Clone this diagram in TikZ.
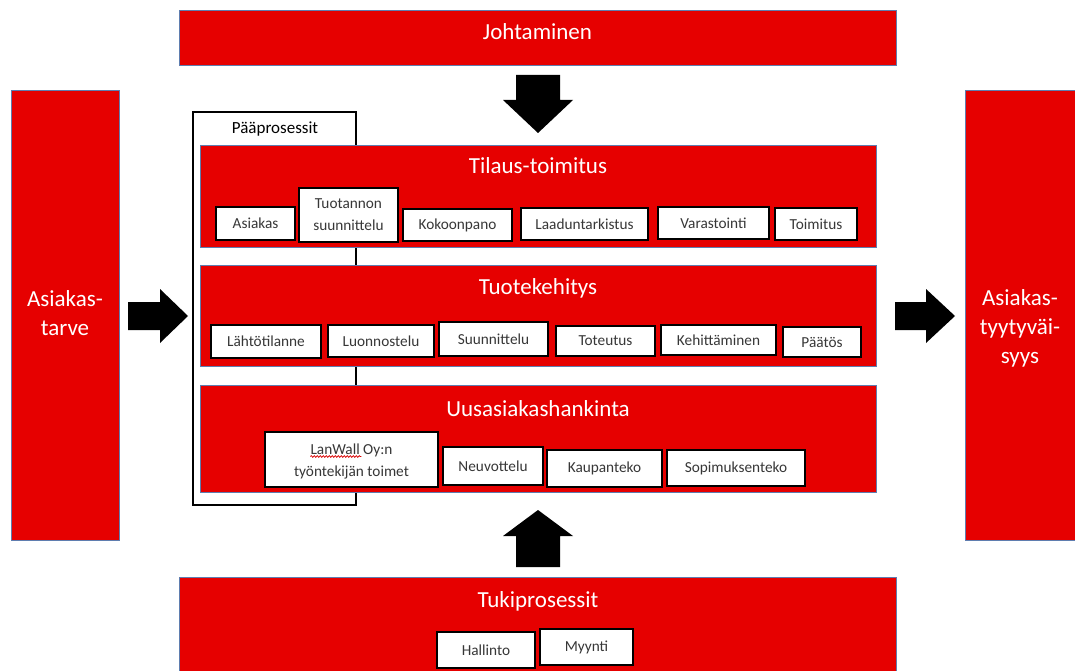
\documentclass[tikz,border=0pt]{standalone}
\usepackage{fontspec}
\setmainfont{Carlito}
\usetikzlibrary{decorations.pathmorphing}

\definecolor{boxred}{RGB}{230,0,0}
\definecolor{edgeblue}{RGB}{95,125,175}
\definecolor{ink}{RGB}{55,55,55}

% \placebox{name}{x1}{y1}{x2}{y2}{style}{text}
\newcommand\placebox[7]{%
  \node[#6, minimum width={#4-#2}, minimum height={#5-#3}] (#1)
    at ({(#2+#4)/2},{(#3+#5)/2}) {#7};}

\begin{document}
\begin{tikzpicture}[x=1pt, y=-1pt,
  redbox/.style={fill=boxred, draw=edgeblue, line width=0.8pt, inner sep=0pt, outer sep=0pt},
  titletext/.style={text=white, font=\fontsize{23}{29}\selectfont, inner sep=0pt, align=center},
  wbox/.style={fill=white, draw=black, line width=1.4pt, text=ink,
    font=\fontsize{15.3}{22}\selectfont, align=center, inner sep=0pt, outer sep=0pt},
  plaintext/.style={text=ink, font=\fontsize{15.3}{22}\selectfont, inner sep=0pt},
  framebox/.style={fill=white, draw=black, line width=1.1pt, inner sep=0pt},
  blockarrow/.style={fill=black},
  squiggle/.style={draw=red!85!black, line width=0.7pt, decorate,
    decoration={snake, amplitude=0.9pt, segment length=3pt}}]

\useasboundingbox (0,0) rectangle (1075,671);
\clip (0,0) rectangle (1075,671);

% side and top/bottom bands
\placebox{joht}{179}{10}{896}{65}{redbox}{}
\node[titletext] (jt) at (537.5,32) {Johtaminen};

\placebox{tarve}{11}{90}{119}{540}{redbox}{}
\node[titletext] (tt) at (65,313) {Asiakas-\\tarve};

\placebox{tyyt}{965}{90}{1085}{540}{redbox}{}
\node[titletext] (yt) at (1020,328) {Asiakas-\\tyytyväi-\\syys};

\placebox{tuki}{179}{577}{896}{690}{redbox}{}
\node[titletext] (ukt) at (538,601) {Tukiprosessit};

% frame of the main processes
\placebox{paa}{193}{112}{356}{505}{framebox}{}
\node[plaintext, text=black, font=\fontsize{17}{20}\selectfont] (paat) at (275,129) {Pääprosessit};

% main process bands
\placebox{tilaus}{200}{145}{876}{247}{redbox}{}
\node[titletext] (tilt) at (538,166) {Tilaus-toimitus};
\placebox{tuote}{200}{265}{876}{366}{redbox}{}
\node[titletext] (tuot) at (538,288) {Tuotekehitys};
\placebox{uus}{200}{385}{876}{492}{redbox}{}
\node[titletext] (uust) at (538,409) {Uusasiakashankinta};

% Tilaus-toimitus steps
\placebox{t1}{216}{207}{295}{240}{wbox}{Asiakas}
\placebox{t2}{299}{188}{398}{242}{wbox}{Tuotannon\\suunnittelu}
\placebox{t3}{403}{209}{512}{241}{wbox}{Kokoonpano}
\placebox{t4}{521}{208}{648}{240}{wbox}{Laaduntarkistus}
\placebox{t5}{658}{207}{769}{239}{wbox}{Varastointi}
\placebox{t6}{775}{208}{857}{240}{wbox}{Toimitus}

% Tuotekehitys steps
\placebox{k1}{211}{325}{321}{358}{wbox}{Lähtötilanne}
\placebox{k2}{328}{325}{434}{357}{wbox}{Luonnostelu}
\placebox{k3}{439}{322}{548}{356}{wbox}{Suunnittelu}
\placebox{k4}{556}{326}{655}{356}{wbox}{Toteutus}
\placebox{k5}{661}{325}{776}{355}{wbox}{Kehittäminen}
\placebox{k6}{783}{327}{861}{357}{wbox}{Päätös}

% Uusasiakashankinta steps
\placebox{u1}{265}{432}{438}{487}{wbox}{}
\node[plaintext, anchor=base] (u1a) at (351.5,454) {LanWall Oy:n};
\node[plaintext, anchor=base] (u1b) at (351.5,476) {työntekijän toimet};
\path[squiggle] ([yshift=-2.5pt]u1a.base west) -- ++(51,0);
\placebox{u2}{443}{447}{543}{485}{wbox}{Neuvottelu}
\placebox{u3}{547}{450}{662}{487}{wbox}{Kaupanteko}
\placebox{u4}{667}{450}{805}{486}{wbox}{Sopimuksenteko}

% support processes
\placebox{s1}{437}{632}{535}{668}{wbox}{Hallinto}
\placebox{s2}{540}{629}{633}{665}{wbox}{Myynti}

% block arrows
\fill[blockarrow] (516,75) -- (560,75) -- (560,100) -- (573,100)
  -- (538,133) -- (503,100) -- (516,100) -- cycle;
\fill[blockarrow] (516,567) -- (560,567) -- (560,536) -- (573,536)
  -- (538,510) -- (503,536) -- (516,536) -- cycle;
\fill[blockarrow] (128,302) -- (160,302) -- (160,289) -- (188,316)
  -- (160,343) -- (160,330) -- (128,330) -- cycle;
\fill[blockarrow] (895,302) -- (926,302) -- (926,289) -- (955,316)
  -- (926,343) -- (926,330) -- (895,330) -- cycle;

\end{tikzpicture}
\end{document}
